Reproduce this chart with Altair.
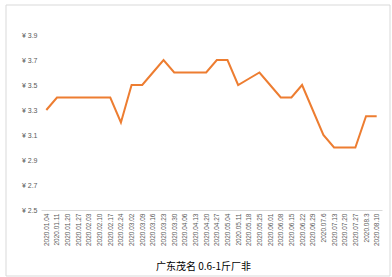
import altair as alt
import pandas as pd

dates = ["2020.01.04", "2020.01.11", "2020.01.20", "2020.01.27", "2020.02.03",
         "2020.02.10", "2020.02.17", "2020.02.24", "2020.03.02", "2020.03.09",
         "2020.03.16", "2020.03.23", "2020.03.30", "2020.04.06", "2020.04.13",
         "2020.04.20", "2020.04.27", "2020.05.04", "2020.05.11", "2020.05.18",
         "2020.05.25", "2020.06.01", "2020.06.08", "2020.06.15", "2020.06.22",
         "2020.06.29", "2020.07.6", "2020.07.13", "2020.07.20", "2020.07.27",
         "2020.08.3", "2020.08.10"]
prices = [3.3, 3.4, 3.4, 3.4, 3.4, 3.4, 3.4, 3.2, 3.5, 3.5,
          3.6, 3.7, 3.6, 3.6, 3.6, 3.6, 3.7, 3.7, 3.5, 3.55,
          3.6, 3.5, 3.4, 3.4, 3.5, 3.3, 3.1, 3.0, 3.0, 3.0,
          3.25, 3.25]
y_ticks = [2.5, 2.7, 2.9, 3.1, 3.3, 3.5, 3.7, 3.9]
title_text = "广东茂名 0.6-1斤厂非"

df = pd.DataFrame({"date": dates, "price": prices})

frame = alt.Chart(pd.DataFrame({"k": [0]})).mark_rect(
    fill=None, stroke="#d9d9d9", strokeWidth=1
).encode(
    x=alt.value(-35), x2=alt.value(349),
    y=alt.value(-30), y2=alt.value(241)
)

line = alt.Chart(df).mark_line(color="#ED7D31", strokeWidth=2).encode(
    x=alt.X("date:O", sort=dates,
            scale=alt.Scale(type="point", padding=0.5),
            axis=alt.Axis(title=title_text, labelAngle=270, labelFontSize=6.5,
                          labelColor="#595959", labelFont="Liberation Sans",
                          labelPadding=3, ticks=False, domainColor="#d9d9d9",
                          titleFont="Noto Sans CJK SC", titleFontSize=10,
                          titleFontWeight="normal", titleColor="#000000",
                          titleY=56, titleX=162, titleBaseline="middle")),
    y=alt.Y("price:Q",
            scale=alt.Scale(domain=[2.5, 3.9], nice=False, zero=False),
            axis=alt.Axis(title=None, values=y_ticks, grid=False, ticks=False,
                          domain=False, labelFontSize=7, labelColor="#595959",
                          labelFont="Liberation Sans", labelPadding=4,
                          labelExpr="'¥ ' + format(datum.value, '.1f')"))
)

chart = alt.layer(frame, line).properties(
    width=341, height=175,
    autosize=alt.AutoSizeParams(type="none"),
    padding={"left": 41, "top": 35, "right": 10, "bottom": 67},
    background="white"
).configure_view(stroke=None)

chart.save("out.html", embed_options={"renderer": "svg", "actions": False})
